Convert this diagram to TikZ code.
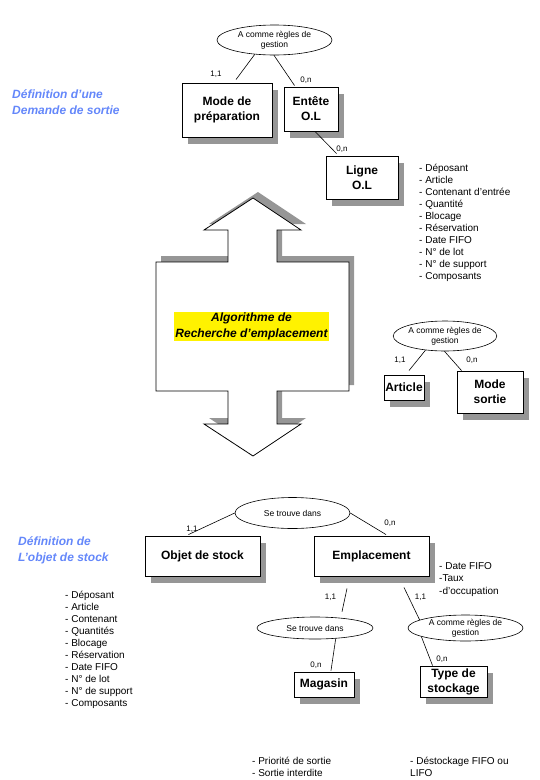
\documentclass[tikz,border=0pt]{standalone}
\usepackage{fontspec}
\setmainfont{Liberation Sans}
\usepackage{xcolor}
\usepackage{tikz}
\usetikzlibrary{shapes.geometric,shadows}
\definecolor{defblue}{RGB}{100,135,250}
\definecolor{shgray}{RGB}{150,150,150}

\begin{document}
\begin{tikzpicture}[x=1pt,y=-1pt,
  box/.style={draw,fill=white,line width=0.9pt,inner sep=0pt,align=center,
    font=\fontsize{12}{15}\selectfont\bfseries,
    drop shadow={shadow xshift=6pt,shadow yshift=-7pt,fill=shgray,opacity=1}},
  rel/.style={ellipse,draw,fill=white,line width=0.6pt,inner sep=0pt,align=center,
    font=\fontsize{8.5}{10}\selectfont},
  card/.style={font=\fontsize{8}{10}\selectfont,inner sep=0pt},
  lst/.style={font=\fontsize{10}{12}\selectfont,inner sep=0pt,anchor=base west},
  deftxt/.style={font=\fontsize{12}{16}\selectfont\bfseries\itshape,text=defblue,
    align=left,anchor=west,inner sep=0pt},
  link/.style={line width=0.6pt}]
  \useasboundingbox (0,0) rectangle (540,780);

  % demande de sortie
  \node[deftxt] (def1) at (12,102) {Définition d'une\\Demande de sortie};
  \node[rel,minimum width=115pt,minimum height=30pt] (gest1) at (274.5,40) {A comme règles de\\gestion};
  \node[box,minimum width=90pt,minimum height=54pt] (mode) at (227,110) {Mode de\\préparation};
  \node[box,minimum width=54pt,minimum height=44pt] (entete) at (311,109) {Entête\\O.L};
  \node[box,minimum width=72pt,minimum height=43pt] (ligne) at (362,177.5) {Ligne\\O.L};
  \draw[link] (gest1.216) -- ([xshift=9pt,yshift=3pt]mode.north);
  \draw[link] (gest1.268) -- ([xshift=11pt,yshift=1pt]entete.north west);
  \draw[link] ([xshift=4pt]entete.south) -- ([xshift=11pt,yshift=2pt]ligne.north west);
  \node[card] (c1) at (216,74) {1,1};
  \node[card] (c2) at (306,80) {0,n};
  \node[card] (c3) at (342,149) {0,n};
  \foreach \t [count=\i] in {Déposant,Article,Contenant d'entrée,Quantité,Blocage,Réservation,Date FIFO,N° de lot,N° de support,Composants}
    \node[lst] (ola\i) at (419,{171.5+12*(\i-1)}) {- \t};

  % algorithme
  \fill[shgray,shift={(5,-6)}] (253,198) -- (301,230) -- (277,230) -- (277,262) -- (349,262)
    -- (349,391) -- (277,391) -- (277,424) -- (301,424) -- (253,456) -- (204,424) -- (228,424)
    -- (228,391) -- (156,391) -- (156,262) -- (228,262) -- (228,230) -- (204,230) -- cycle;
  \draw[fill=white,line width=0.8pt] (253,198) -- (301,230) -- (277,230) -- (277,262) -- (349,262)
    -- (349,391) -- (277,391) -- (277,424) -- (301,424) -- (253,456) -- (204,424) -- (228,424)
    -- (228,391) -- (156,391) -- (156,262) -- (228,262) -- (228,230) -- (204,230) -- cycle;
  \node[fill=yellow,inner sep=0pt,minimum width=155pt,minimum height=29pt,align=center,
    font=\fontsize{12}{16}\selectfont\bfseries\itshape] (algo) at (251.5,326.5) {Algorithme de\\Recherche d'emplacement};

  % article / mode sortie
  \node[rel,minimum width=98pt,minimum height=30pt] (gest2) at (445,336) {A comme règles de\\gestion};
  \node[box,minimum width=40pt,minimum height=25pt] (article) at (404,387.5) {Article};
  \node[box,minimum width=66pt,minimum height=42pt] (msortie) at (490,392) {Mode\\sortie};
  \draw[link] (gest2.216) -- ([xshift=5pt,yshift=4pt]article.north);
  \draw[link] (gest2.268) -- ([xshift=5pt]msortie.north west);
  \node[card] (c4) at (400,360) {1,1};
  \node[card] (c5) at (472,360) {0,n};

  % objet de stock
  \node[deftxt] (def2) at (18,550.5) {Définition de\\L’objet de stock};
  \node[rel,minimum width=115pt,minimum height=31pt] (trouve1) at (292.5,513) {Se trouve dans};
  \node[box,minimum width=115pt,minimum height=40pt] (objet) at (202.5,556) {Objet de stock};
  \node[box,minimum width=115pt,minimum height=40pt] (empl) at (371.5,556) {Emplacement};
  \draw[link] (trouve1.west) -- ([xshift=-14pt,yshift=1pt]objet.north);
  \draw[link] (trouve1.east) -- ([xshift=14.5pt,yshift=1pt]empl.north);
  \node[card] (c6) at (192,529) {1,1};
  \node[card] (c7) at (390,523) {0,n};
  \node[lst] (emp1) at (439,569) {- Date FIFO};
  \node[lst] (emp2) at (439,581.5) {-Taux};
  \node[lst] (emp3) at (439,594) {-d'occupation};
  \foreach \t [count=\i] in {Déposant,Article,Contenant,Quantités,Blocage,Réservation,Date FIFO,N° de lot,N° de support,Composants}
    \node[lst] (obj\i) at (65,{598.5+12*(\i-1)}) {- \t};

  % magasin / type de stockage
  \node[rel,minimum width=116pt,minimum height=22pt] (trouve2) at (315,628) {Se trouve dans};
  \node[rel,minimum width=115pt,minimum height=26pt] (gest3) at (465.5,628) {A comme règles de\\gestion};
  \draw[link] ([xshift=-24.5pt,yshift=-12pt]empl.south) -- ([xshift=27pt,yshift=5pt]trouve2.north);
  \draw[link] ([xshift=32.5pt,yshift=-11pt]empl.south) -- (gest3.170);
  \node[card] (c8) at (330.5,597) {1,1};
  \node[card] (c9) at (420.5,597) {1,1};
  \node[box,minimum width=60pt,minimum height=25pt] (magasin) at (324,684.5) {Magasin};
  \node[box,minimum width=67pt,minimum height=31pt] (typest) at (453.5,681.5) {Type de\\stockage};
  \draw[link] (trouve2.333) -- ([xshift=7pt,yshift=1pt]magasin.north);
  \draw[link] (gest3.191) -- ([xshift=13pt]typest.north west);
  \node[card] (c10) at (316,665) {0,n};
  \node[card] (c11) at (442,659) {0,n};
  \node[lst] (prio1) at (252,764.5) {- Priorité de sortie};
  \node[lst] (prio2) at (252,776.5) {- Sortie interdite};
  \node[lst] (dest1) at (410,764.5) {- Déstockage FIFO ou};
  \node[lst] (dest2) at (410,776.5) {LIFO};
\end{tikzpicture}
\end{document}
